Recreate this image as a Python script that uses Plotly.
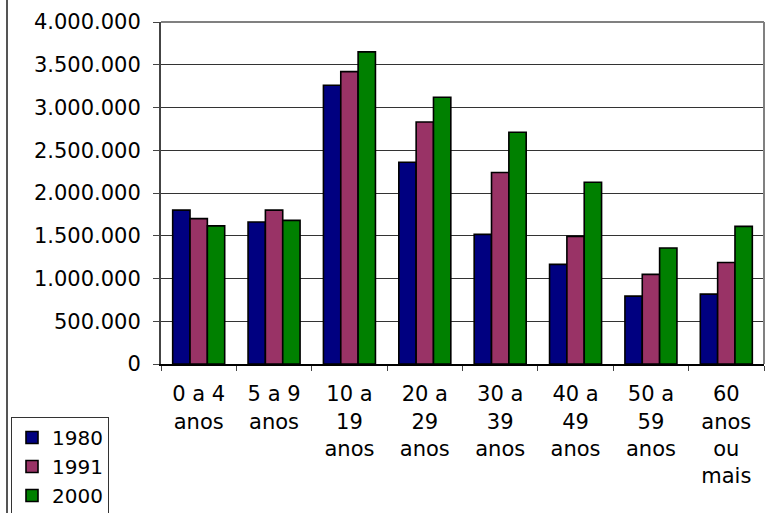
import plotly.graph_objects as go

categories = ["0 a 4<br>anos", "5 a 9<br>anos", "10 a<br>19<br>anos", "20 a<br>29<br>anos",
              "30 a<br>39<br>anos", "40 a<br>49<br>anos", "50 a<br>59<br>anos", "60<br>anos<br>ou<br>mais"]
years = ["1980", "1991", "2000"]
v1980 = [1800000, 1660000, 3260000, 2360000, 1516000, 1165000, 794000, 817000]
v1991 = [1700000, 1800000, 3420000, 2830000, 2240000, 1493000, 1048000, 1188000]
v2000 = [1616000, 1680000, 3650000, 3120000, 2710000, 2125000, 1356000, 1610000]
colors = ["#000080", "#993366", "#008000"]
yticks = [0, 500000, 1000000, 1500000, 2000000, 2500000, 3000000, 3500000, 4000000]

W, H = 765, 513
L, R, T, B = 161, 1, 22, 149
pw, ph = W - L - R, H - T - B

fig = go.Figure()
for name, vals, c in zip(years, [v1980, v1991, v2000], colors):
    fig.add_trace(go.Bar(x=categories, y=vals, name=name,
                         marker=dict(color=c, line=dict(color="black", width=1.6))))

FAM = "DejaVu Sans, Verdana, sans-serif"
fig.update_layout(
    width=W, height=H,
    margin=dict(l=L, r=R, t=T, b=B, pad=0, autoexpand=False),
    paper_bgcolor="white", plot_bgcolor="white",
    separators=",.",
    font=dict(family=FAM, size=21, color="black"),
    barmode="group", bargap=0.31, bargroupgap=0,
    legend=dict(x=(11 - L) / pw, y=(364 - 417) / ph, xanchor="left", yanchor="top",
                bgcolor="white", bordercolor="#333333", borderwidth=1,
                font=dict(family=FAM, size=20, color="black"),
                traceorder="normal", itemwidth=30, tracegroupgap=0),
    showlegend=True,
)
fig.update_yaxes(range=[0, 4000000], tickvals=yticks, tickformat=",d",
                 showgrid=True, gridcolor="#333333", gridwidth=1,
                 showline=True, linecolor="#444444", linewidth=2,
                 ticks="outside", ticklen=6, tickcolor="#444444", tickwidth=1,
                 zeroline=False, ticklabelstandoff=8)
fig.update_xaxes(showline=True, linecolor="black", linewidth=2,
                 ticks="outside", ticklen=5, tickcolor="#444444", tickwidth=1,
                 tickson="boundaries", tickangle=0, ticklabelstandoff=10)

# plot-area frame (top and right) and outer left border
fig.add_shape(type="line", xref="paper", yref="paper", x0=0, x1=1, y0=1, y1=1,
              line=dict(color="#808080", width=2))
fig.add_shape(type="line", xref="paper", yref="paper", x0=1, x1=1, y0=0, y1=1,
              line=dict(color="#808080", width=2))
fig.add_shape(type="line", xref="paper", yref="paper",
              x0=(7 - L) / pw, x1=(7 - L) / pw, y0=-B / ph, y1=1 + T / ph,
              line=dict(color="#555555", width=2))

fig.write_html("out.html", config={"displayModeBar": False},
               post_script="document.body.style.margin='0';")
